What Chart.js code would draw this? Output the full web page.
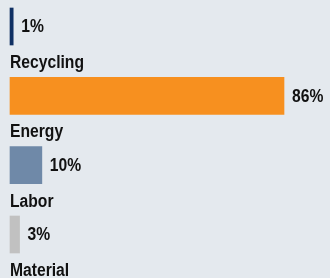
<!DOCTYPE html>
<html>
<head>
<meta charset="utf-8">
<script src="https://cdn.jsdelivr.net/npm/chart.js@4"></script>
<style>
    html, body { margin: 0; padding: 0; background: #e4e9ee; }
    #wrap { width: 330px; height: 278px; }
</style>
</head>
<body>
<div id="wrap"><canvas id="costChart" width="330" height="278"></canvas></div>
<script>
// dados do gráfico
const categories = ['Recycling', 'Energy', 'Labor', 'Material'];
const shares = [1, 86, 10, 3];
const valueLabels = ['1%', '86%', '10%', '3%'];
const barColors = ['#0f3063', '#f7901f', '#6f89a8', '#c1c1c1'];

const labelFont = 'bold 18px "Liberation Sans", Arial, sans-serif';
const narrow = 0.87; // fonte condensada simulada

function drawNarrowText(ctx, text, x, y) {
    ctx.save();
    ctx.translate(x, y);
    ctx.scale(narrow, 1);
    ctx.fillText(text, 0, 0);
    ctx.restore();
}

// desenha o valor ao lado e o nome abaixo de cada barra
const barTextPlugin = {
    id: 'barText',
    afterDatasetsDraw(chart) {
        const ctx = chart.ctx;
        const meta = chart.getDatasetMeta(0);
        ctx.save();
        ctx.font = labelFont;
        ctx.fillStyle = '#111111';
        ctx.textAlign = 'left';
        meta.data.forEach((bar, i) => {
            ctx.textBaseline = 'middle';
            drawNarrowText(ctx, valueLabels[i], bar.x + 8, bar.y + 1);
            ctx.textBaseline = 'alphabetic';
            drawNarrowText(ctx, categories[i], chart.chartArea.left, bar.y + bar.height / 2 + 23);
        });
        ctx.restore();
    }
};

const ctx = document.getElementById('costChart').getContext('2d');
new Chart(ctx, {
    type: 'bar',
    data: {
        labels: categories,
        datasets: [{
            data: shares,
            backgroundColor: barColors,
            borderWidth: 0,
            barThickness: 37,
            clip: false,
        }],
    },
    options: {
        indexAxis: 'y',
        responsive: false,
        animation: false,
        layout: {
            padding: { left: 10, right: 46, top: 26.5, bottom: 43.5 },
        },
        scales: {
            x: { display: false, min: 0, max: 86, grid: { display: false } },
            y: { display: false, offset: false, grid: { display: false } },
        },
        plugins: {
            legend: { display: false },
            tooltip: { enabled: false },
        },
    },
    plugins: [barTextPlugin],
});
</script>
</body>
</html>
